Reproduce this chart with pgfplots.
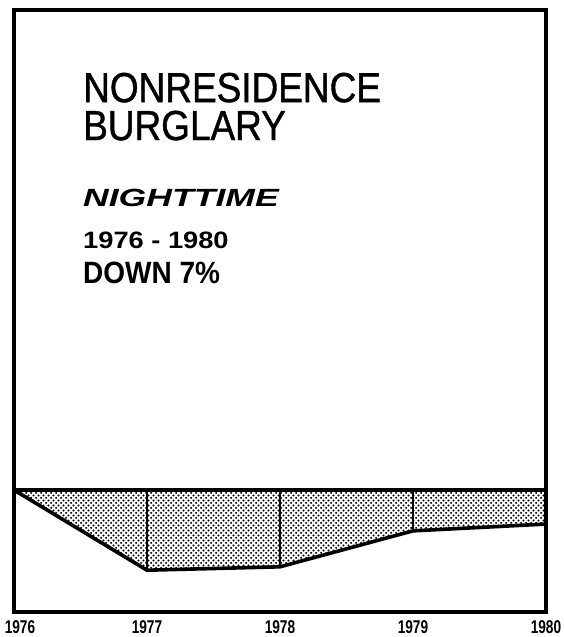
\documentclass[border=0pt]{standalone}
\usepackage{fontspec}
\setmainfont{Liberation Sans}
\newfontfamily\titlefont[FakeStretch=0.88,FakeBold=1]{Liberation Sans}
\newfontfamily\tickfont[FakeStretch=0.74]{Liberation Sans}
\usepackage{pgfplots}
\pgfplotsset{compat=1.18}
\usetikzlibrary{patterns}
\pgfdeclarepatternformonly{stipple}{\pgfpointorigin}{\pgfpoint{5.3pt}{5.3pt}}{\pgfpoint{5.3pt}{5.3pt}}{%
  \pgfpathcircle{\pgfpoint{1.3pt}{1.3pt}}{1.25pt}%
  \pgfpathcircle{\pgfpoint{3.95pt}{3.95pt}}{1.25pt}%
  \pgfusepath{fill}}
\begin{document}
\begin{tikzpicture}
\begin{axis}[
  scale only axis, width=532pt, height=602pt,
  xmin=0, xmax=4, ymin=-25.1, ymax=98.8,
  axis line style={draw=none},
  xtick={0,1,2,3,4},
  xticklabels={\hspace{12pt}1976,1977,1978,1979,1980},
  xticklabel style={font=\tickfont\bfseries\fontsize{18.5}{20}\selectfont, anchor=north, yshift=-5pt},
  ytick=\empty, major tick length=0pt,
  clip=false,
]
\addplot[pattern=stipple, pattern color=black, draw=none]
  coordinates {(0,0) (1,-16.5) (2,-15.8) (3,-8.4) (4,-7) (4,0)} -- cycle;
\addplot[line width=3.6pt, black, line join=round] coordinates {(0,0) (1,-16.5) (2,-15.8) (3,-8.4) (4,-7)};
\addplot[line width=3.6pt, black] coordinates {(0,0) (4,0)};
\addplot[line width=2.8pt, black] coordinates {(1,0) (1,-16.5)};
\addplot[line width=2.8pt, black] coordinates {(2,0) (2,-15.8)};
\addplot[line width=2.8pt, black] coordinates {(3,0) (3,-8.4)};
\draw[line width=3.8pt, line join=miter] (rel axis cs:0,0) rectangle (rel axis cs:1,1);
\node[anchor=base west, inner sep=0pt] at (rel axis cs:0.1297,0.847) {\titlefont\fontsize{42}{44}\selectfont NONRESIDENCE};
\node[anchor=base west, inner sep=0pt] at (rel axis cs:0.1297,0.784) {\titlefont\fontsize{42}{44}\selectfont BURGLARY};
\node[anchor=base west, inner sep=0pt] at (rel axis cs:0.1297,0.673) {\scalebox{1.5}[1.05]{\bfseries\itshape\fontsize{23.7}{25}\selectfont NIGHTTIME}};
\node[anchor=base west, inner sep=0pt] at (rel axis cs:0.1297,0.603) {\scalebox{1.15}[1]{\bfseries\fontsize{23.7}{25}\selectfont 1976 - 1980}};
\node[anchor=base west, inner sep=0pt] at (rel axis cs:0.1297,0.5465) {\scalebox{1.0}[1.1]{\bfseries\fontsize{28}{30}\selectfont DOWN 7\%}};
\coordinate (sw) at (rel axis cs:0,0);
\end{axis}
\pgfresetboundingbox
\path ([xshift=-14pt,yshift=-25pt]sw) rectangle ([xshift=549pt,yshift=612pt]sw);
\end{tikzpicture}
\end{document}
